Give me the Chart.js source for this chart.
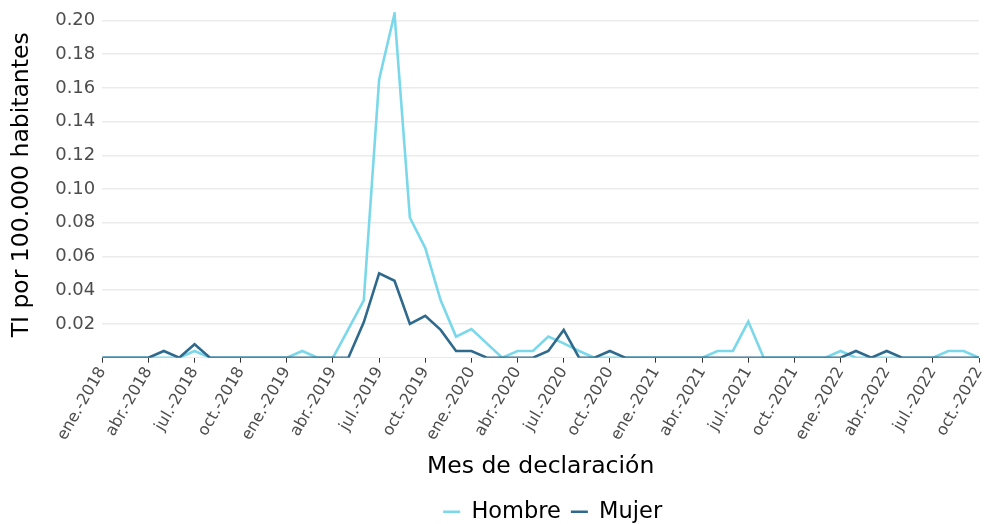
<!DOCTYPE html>
<html>
<head>
<meta charset="utf-8">
<script src="https://cdn.jsdelivr.net/npm/chart.js@4"></script>
<style>
  body { margin: 0; background: #fff; }
</style>
</head>
<body>
<canvas id="grafico" width="984" height="524"></canvas>
<script>
const meses = [
  "ene.-2018","feb.-2018","mar.-2018","abr.-2018","may.-2018","jun.-2018","jul.-2018","ago.-2018","sept.-2018","oct.-2018","nov.-2018","dic.-2018",
  "ene.-2019","feb.-2019","mar.-2019","abr.-2019","may.-2019","jun.-2019","jul.-2019","ago.-2019","sept.-2019","oct.-2019","nov.-2019","dic.-2019",
  "ene.-2020","feb.-2020","mar.-2020","abr.-2020","may.-2020","jun.-2020","jul.-2020","ago.-2020","sept.-2020","oct.-2020","nov.-2020","dic.-2020",
  "ene.-2021","feb.-2021","mar.-2021","abr.-2021","may.-2021","jun.-2021","jul.-2021","ago.-2021","sept.-2021","oct.-2021","nov.-2021","dic.-2021",
  "ene.-2022","feb.-2022","mar.-2022","abr.-2022","may.-2022","jun.-2022","jul.-2022","ago.-2022","sept.-2022","oct.-2022"
];

const hombre = [
  0, 0, 0, 0, 0, 0, 0.004, 0, 0, 0, 0, 0,
  0, 0.004, 0, 0, 0.017, 0.034, 0.165, 0.204, 0.083, 0.065, 0.034, 0.0125,
  0.017, 0.0085, 0, 0.004, 0.004, 0.0125, 0.0085, 0.004, 0, 0, 0, 0,
  0, 0, 0, 0, 0.004, 0.004, 0.0214, 0, 0, 0, 0, 0,
  0.004, 0, 0, 0, 0, 0, 0, 0.004, 0.004, 0
];

const mujer = [
  0, 0, 0, 0, 0.004, 0, 0.008, 0, 0, 0, 0, 0,
  0, 0, 0, 0, 0, 0.021, 0.050, 0.0456, 0.020, 0.0248, 0.0165, 0.004,
  0.004, 0, 0, 0, 0, 0.004, 0.0165, 0, 0, 0.004, 0, 0,
  0, 0, 0, 0, 0, 0, 0, 0, 0, 0, 0, 0,
  0, 0.004, 0, 0.004, 0, 0, 0, 0, 0, 0
];

// lineas de la grilla (mayores cada 0.02, menores en medio)
const yGrid = [0, 0.01, 0.02, 0.03, 0.04, 0.05, 0.06, 0.07, 0.08, 0.09, 0.10,
               0.11, 0.12, 0.13, 0.14, 0.15, 0.16, 0.17, 0.18, 0.19, 0.20];
const yLabels = ["", "", "0.02", "", "0.04", "", "0.06", "", "0.08", "", "0.10",
                 "", "0.12", "", "0.14", "", "0.16", "", "0.18", "", "0.20"];

const fuente = "'DejaVu Sans', 'Liberation Sans', Arial, sans-serif";

// la leyenda va un poco a la derecha, como en el original
const moverLeyenda = {
  id: 'moverLeyenda',
  afterLayout(chart) {
    const lg = chart.legend;
    const dx = (chart.chartArea.left + chart.chartArea.right) / 2 + 12 - (lg.left + lg.right) / 2;
    lg.left += dx;
    lg.right += dx;
  }
};

const ctx = document.getElementById("grafico").getContext("2d");

new Chart(ctx, {
  type: 'line',
  data: {
    labels: meses,
    datasets: [
      {
        label: 'Hombre',
        data: hombre,
        borderColor: '#7bd8ea',
        backgroundColor: '#7bd8ea',
        borderWidth: 2.6,
        pointRadius: 0,
        tension: 0,
        order: 1
      },
      {
        label: 'Mujer',
        data: mujer,
        borderColor: '#2f6a8d',
        backgroundColor: '#2f6a8d',
        borderWidth: 2.6,
        pointRadius: 0,
        tension: 0,
        order: 0
      }
    ]
  },
  plugins: [moverLeyenda],
  options: {
    responsive: false,
    animation: false,
    layout: { padding: { top: 12, right: 5, left: 0, bottom: -9 } },
    plugins: {
      tooltip: { enabled: false },
      legend: {
        position: 'bottom',
        labels: {
          usePointStyle: true,
          pointStyle: 'line',
          pointStyleWidth: 17,
          boxWidth: 17,
          padding: 10,
          color: '#000',
          font: { family: fuente, size: 22.5 },
          sort: (a, b) => a.datasetIndex - b.datasetIndex
        }
      }
    },
    scales: {
      x: {
        border: { display: false },
        afterFit: s => { s.paddingRight = 0; s.paddingLeft = 0; },
        grid: {
          drawOnChartArea: false,
          tickLength: 5,
          tickColor: '#333',
          tickWidth: 1
        },
        ticks: {
          autoSkip: false,
          maxRotation: 60,
          minRotation: 60,
          padding: 1,
          color: '#4d4d4d',
          font: { family: fuente, size: 16 },
          callback: (v, i) => (i % 3 === 0 ? meses[i] : null)
        },
        title: {
          display: true,
          text: 'Mes de declaración',
          color: '#000',
          font: { family: fuente, size: 23.5 },
          padding: { top: 8, bottom: 9.5 }
        }
      },
      y: {
        min: 0,
        max: 0.205,
        border: { display: false },
        afterFit: s => { s.paddingTop = 0; s.paddingBottom = 0; },
        afterBuildTicks: axis => {
          axis.ticks = yGrid.map(v => ({ value: v }));
        },
        grid: {
          drawTicks: false,
          color: c => (yLabels[c.index] !== "" || c.index === 0 ? '#ebebeb' : '#f5f5f5'),
          lineWidth: c => (yLabels[c.index] !== "" ? 1.5 : 1)
        },
        ticks: {
          padding: 7,
          color: '#4d4d4d',
          font: { family: fuente, size: 18 },
          callback: (v, i) => yLabels[i]
        },
        title: {
          display: true,
          text: 'TI por 100.000 habitantes',
          color: '#000',
          font: { family: fuente, size: 23.5 },
          padding: { top: 8, bottom: 12 }
        }
      }
    }
  }
});
</script>
</body>
</html>
